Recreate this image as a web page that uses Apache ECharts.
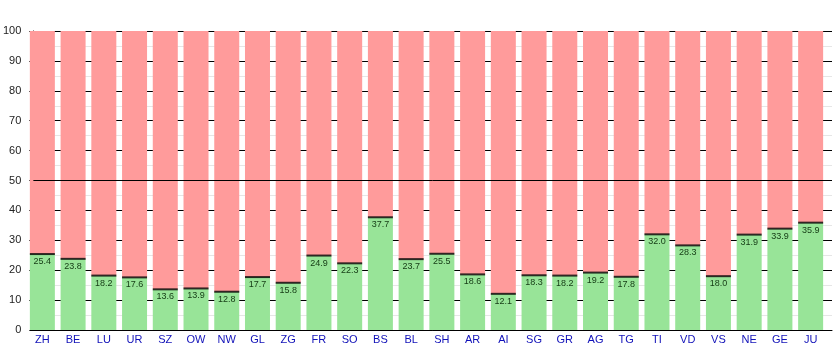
<!DOCTYPE html>
<html>
<head>
<meta charset="utf-8">
<script src="https://cdn.jsdelivr.net/npm/echarts@6/dist/echarts.min.js"></script>
<style>
  html, body { margin: 0; padding: 0; background: #ffffff; }
  #chart { width: 835px; height: 350px; }
</style>
</head>
<body>
<div id="chart"></div>
<script>
// Cantons and share of "yes" votes (percent)
const cantons = ['ZH','BE','LU','UR','SZ','OW','NW','GL','ZG','FR','SO','BS','BL','SH','AR','AI','SG','GR','AG','TG','TI','VD','VS','NE','GE','JU'];
const yesShare = [25.4,23.8,18.2,17.6,13.6,13.9,12.8,17.7,15.8,24.9,22.3,37.7,23.7,25.5,18.6,12.1,18.3,18.2,19.2,17.8,32.0,28.3,18.0,31.9,33.9,35.9];
const yTicks = [0,10,20,30,40,50,60,70,80,90,100];
const majorityLine = 50;

// the "no" part fills each column up to 100 %
const noShare = yesShare.map(v => +(100 - v).toFixed(1));

const GREEN = '#98e498';
const PINK = '#ff9b9b';
const FONT = 'Liberation Sans, Arial, sans-serif';

const chart = echarts.init(document.getElementById('chart'), null, { renderer: 'canvas' });

chart.setOption({
  animation: false,
  backgroundColor: '#ffffff',
  grid: [
    // bars
    { left: 27, top: 31, width: 799, height: 299, containLabel: false },
    // frame: y axis, gridlines, baseline
    { left: 30, top: 31, right: 3, height: 299, containLabel: false }
  ],
  xAxis: [
    {
      type: 'category', gridIndex: 0, data: cantons,
      axisLine: { show: false }, axisTick: { show: false },
      axisLabel: { color: '#1010b8', fontFamily: FONT, fontSize: 11, margin: 4, interval: 0 }
    },
    {
      type: 'value', gridIndex: 1, min: 0, max: 1,
      axisLine: { show: true, lineStyle: { color: '#000', width: 1 } },
      axisTick: { show: false }, axisLabel: { show: false }, splitLine: { show: false }
    }
  ],
  yAxis: [
    {
      type: 'value', gridIndex: 0, min: 0, max: 100, interval: 10,
      axisLine: { show: false }, axisTick: { show: false },
      axisLabel: { show: false }, splitLine: { show: false }
    },
    {
      type: 'value', gridIndex: 1, min: 0, max: 100, interval: 10,
      axisLine: { show: true, onZero: false, lineStyle: { color: '#000', width: 1 } },
      axisTick: { show: true, length: 4, lineStyle: { color: '#000' } },
      minorTick: { show: true, splitNumber: 2, length: 3, lineStyle: { color: '#000' } },
      axisLabel: {
        color: '#222', fontFamily: FONT, fontSize: 11, margin: 12,
        customValues: yTicks
      },
      splitLine: { show: true, lineStyle: { color: '#000', width: 1 } },
      minorSplitLine: { show: true, lineStyle: { color: '#e6e6e6', width: 1 } }
    }
  ],
  series: [
    {
      name: 'yes', type: 'bar', stack: 'vote', xAxisIndex: 0, yAxisIndex: 0,
      data: yesShare, barWidth: 25, z: 3,
      itemStyle: { color: GREEN },
      label: {
        show: true, position: 'insideTop', distance: 3,
        formatter: p => yesShare[p.dataIndex].toFixed(1),
        color: '#143a14', fontFamily: FONT, fontSize: 9
      }
    },
    {
      name: 'no', type: 'bar', stack: 'vote', xAxisIndex: 0, yAxisIndex: 0,
      data: noShare, barWidth: 25, z: 3,
      itemStyle: { color: PINK }
    },
    {
      // dividing edge between the two parts of each column
      name: 'edge', type: 'scatter', xAxisIndex: 0, yAxisIndex: 0,
      data: yesShare, symbol: 'rect', symbolSize: [25, 2], z: 5,
      itemStyle: { color: '#000' }, silent: true
    },
    {
      // majority reference line across the whole plot
      name: 'majority', type: 'line', xAxisIndex: 1, yAxisIndex: 1,
      data: [], z: 6, silent: true,
      markLine: {
        symbol: 'none', silent: true, label: { show: false },
        lineStyle: { color: '#000', width: 1, type: 'solid' },
        data: [{ yAxis: majorityLine }]
      }
    }
  ]
});
</script>
</body>
</html>
